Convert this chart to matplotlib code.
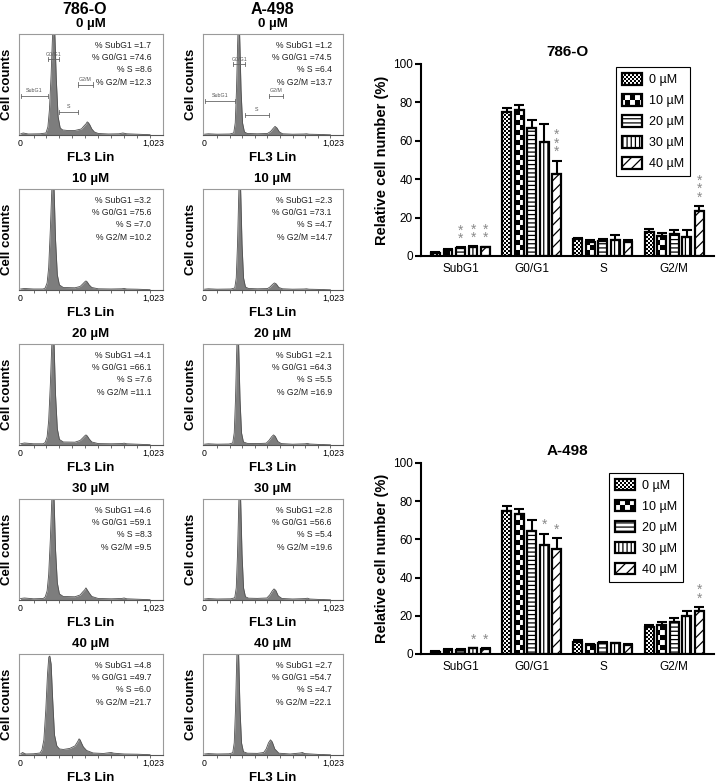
import warnings
warnings.filterwarnings('ignore')
import numpy as np
import matplotlib
matplotlib.use('Agg')
import matplotlib.pyplot as plt
import matplotlib.hatch as mhatch
from matplotlib.path import Path

plt.rcParams['font.family'] = ['Liberation Sans', 'DejaVu Sans']
plt.rcParams['hatch.linewidth'] = 0.9

# ---------------- data ----------------
concs = ['0 µM', '10 µM', '20 µM', '30 µM', '40 µM']
phases = ['SubG1', 'G0/G1', 'S', 'G2/M']

# flow-cytometry statistics shown in the histogram panels
stat_786 = [[1.7, 74.6, 8.6, 12.3], [3.2, 75.6, 7.0, 10.2], [4.1, 66.1, 7.6, 11.1],
            [4.6, 59.1, 8.3, 9.5], [4.8, 49.7, 6.0, 21.7]]
stat_498 = [[1.2, 74.5, 6.4, 13.7], [2.3, 73.1, 4.7, 14.7], [2.1, 64.3, 5.5, 16.9],
            [2.8, 56.6, 5.4, 19.6], [2.7, 54.7, 4.7, 22.1]]

# histogram outlines (channel, relative count)
ch_786_0 = [0, 20, 60, 150, 196, 211, 223, 236, 246, 256, 266, 276, 290, 306, 325, 360, 420, 470, 490, 505, 515, 525, 535, 550, 570, 600, 680, 760, 790, 820, 900, 1000]
ct_786_0 = [0.01, 0.02, 0.01, 0.012, 0.02, 0.08, 0.25, 0.6, 0.95, 1.25, 0.95, 0.55, 0.18, 0.07, 0.05, 0.045, 0.045, 0.06, 0.09, 0.11, 0.13, 0.12, 0.1, 0.06, 0.03, 0.015, 0.01, 0.012, 0.02, 0.012, 0.008, 0.003]
ch_786_1 = [0, 30, 100, 175, 190, 205, 217, 230, 240, 250, 260, 270, 284, 300, 330, 420, 460, 480, 495, 505, 515, 530, 550, 600, 700, 780, 800, 820, 900, 1000]
ct_786_1 = [0.01, 0.015, 0.01, 0.01, 0.02, 0.07, 0.22, 0.6, 0.95, 1.3, 0.95, 0.5, 0.15, 0.05, 0.025, 0.022, 0.035, 0.06, 0.08, 0.09, 0.08, 0.05, 0.025, 0.012, 0.01, 0.012, 0.015, 0.01, 0.008, 0.003]
ch_786_2 = [0, 30, 100, 175, 190, 205, 217, 230, 240, 250, 260, 270, 284, 300, 330, 420, 460, 480, 495, 505, 515, 530, 550, 600, 700, 780, 800, 820, 900, 1000]
ct_786_2 = [0.012, 0.02, 0.012, 0.012, 0.025, 0.08, 0.24, 0.6, 0.95, 1.3, 0.95, 0.5, 0.16, 0.055, 0.03, 0.028, 0.045, 0.07, 0.09, 0.1, 0.09, 0.06, 0.03, 0.014, 0.012, 0.014, 0.018, 0.012, 0.008, 0.003]
ch_786_3 = [0, 30, 100, 175, 190, 205, 217, 230, 240, 250, 260, 270, 284, 300, 330, 420, 460, 480, 495, 505, 515, 530, 550, 600, 700, 780, 800, 820, 900, 1000]
ct_786_3 = [0.015, 0.02, 0.012, 0.015, 0.03, 0.09, 0.25, 0.6, 0.95, 1.3, 0.95, 0.5, 0.17, 0.06, 0.035, 0.032, 0.05, 0.08, 0.1, 0.12, 0.1, 0.07, 0.035, 0.015, 0.012, 0.015, 0.02, 0.012, 0.008, 0.003]
ch_786_4 = [0, 15, 40, 100, 150, 165, 180, 195, 208, 218, 226, 236, 248, 262, 280, 300, 330, 380, 420, 440, 452, 460, 470, 485, 510, 560, 640, 680, 700, 720, 800, 900, 1000]
ct_786_4 = [0.01, 0.025, 0.01, 0.012, 0.02, 0.05, 0.15, 0.45, 0.8, 0.97, 0.98, 0.9, 0.55, 0.2, 0.09, 0.06, 0.055, 0.065, 0.09, 0.13, 0.16, 0.15, 0.12, 0.08, 0.045, 0.02, 0.015, 0.022, 0.025, 0.018, 0.01, 0.008, 0.003]

ch_498_0 = [0, 30, 100, 200, 232, 244, 254, 263, 272, 281, 290, 302, 317, 340, 420, 500, 525, 545, 560, 575, 595, 620, 700, 790, 810, 830, 900, 1000]
ct_498_0 = [0.008, 0.012, 0.008, 0.01, 0.02, 0.12, 0.45, 0.9, 1.3, 0.9, 0.45, 0.12, 0.03, 0.015, 0.012, 0.015, 0.035, 0.065, 0.085, 0.07, 0.03, 0.012, 0.008, 0.01, 0.012, 0.008, 0.006, 0.002]
ch_498_1 = [0, 30, 100, 210, 240, 252, 262, 271, 280, 289, 298, 310, 325, 350, 420, 500, 520, 540, 555, 570, 590, 620, 700, 790, 810, 830, 900, 1000]
ct_498_1 = [0.008, 0.012, 0.008, 0.01, 0.02, 0.12, 0.45, 0.9, 1.3, 0.9, 0.45, 0.12, 0.03, 0.015, 0.012, 0.014, 0.03, 0.055, 0.07, 0.06, 0.025, 0.012, 0.008, 0.01, 0.012, 0.008, 0.006, 0.002]
ch_498_2 = [0, 30, 100, 195, 224, 236, 246, 255, 264, 273, 282, 294, 309, 340, 420, 490, 512, 532, 548, 562, 582, 610, 700, 800, 817, 835, 900, 1000]
ct_498_2 = [0.008, 0.012, 0.008, 0.01, 0.02, 0.12, 0.45, 0.9, 1.3, 0.9, 0.45, 0.12, 0.03, 0.016, 0.014, 0.018, 0.045, 0.08, 0.1, 0.085, 0.035, 0.014, 0.008, 0.012, 0.016, 0.01, 0.006, 0.002]
ch_498_3 = [0, 30, 100, 210, 240, 252, 262, 271, 280, 289, 298, 310, 325, 350, 420, 495, 518, 538, 552, 566, 586, 615, 700, 800, 817, 835, 900, 1000]
ct_498_3 = [0.01, 0.014, 0.01, 0.012, 0.022, 0.12, 0.45, 0.9, 1.3, 0.9, 0.45, 0.12, 0.032, 0.018, 0.016, 0.02, 0.05, 0.09, 0.11, 0.095, 0.04, 0.015, 0.01, 0.014, 0.018, 0.01, 0.006, 0.002]
ch_498_4 = [0, 30, 100, 195, 224, 236, 246, 255, 264, 273, 282, 294, 309, 340, 420, 470, 490, 508, 524, 538, 558, 590, 680, 760, 778, 795, 900, 1000]
ct_498_4 = [0.01, 0.014, 0.01, 0.012, 0.022, 0.12, 0.45, 0.9, 1.3, 0.9, 0.45, 0.12, 0.032, 0.018, 0.016, 0.025, 0.06, 0.12, 0.15, 0.13, 0.06, 0.018, 0.01, 0.02, 0.025, 0.014, 0.006, 0.002]

# gate markers on the 0 µM panels (channel range, relative height)
gate_786_lo = [0, 215, 300, 440]
gate_786_hi = [215, 300, 440, 560]
gate_786_y = [0.39, 0.75, 0.23, 0.50]
gate_498_lo = [0, 230, 318, 516]
gate_498_hi = [245, 325, 516, 627]
gate_498_y = [0.34, 0.70, 0.20, 0.39]

# bar chart values (mean, upper error) per concentration across phases
m786 = [[1.7, 75.0, 8.6, 12.6], [3.2, 75.8, 7.2, 10.6], [4.1, 66.5, 7.6, 11.2],
        [4.6, 59.5, 8.3, 9.8], [4.5, 42.7, 7.5, 23.4]]
e786 = [[0.3, 2.0, 0.8, 1.5], [0.4, 2.6, 1.0, 1.3], [0.4, 4.5, 1.5, 2.6],
        [0.4, 9.5, 2.5, 3.8], [0.4, 7.0, 0.6, 2.5]]
m498 = [[1.2, 75.0, 6.4, 14.0], [2.1, 73.5, 4.7, 15.0], [2.1, 64.5, 5.6, 17.0],
        [2.9, 57.0, 5.5, 20.0], [2.8, 55.0, 4.8, 22.5]]
e498 = [[0.2, 2.5, 0.7, 1.0], [0.3, 2.5, 0.6, 1.8], [0.3, 5.5, 0.7, 2.0],
        [0.3, 6.0, 0.5, 2.5], [0.3, 5.5, 0.5, 2.0]]
# significance: (phase index, concentration index, number of stars)
sig786 = [(0, 2, 2), (0, 3, 2), (0, 4, 2), (1, 4, 3), (3, 4, 3)]
sig498 = [(0, 3, 1), (0, 4, 1), (1, 3, 1), (1, 4, 1), (3, 4, 2)]


# ---------------- custom checker hatches ----------------
class _Checker(mhatch.HatchPatternBase):
    char = 'c'
    n = 10
    inset = 0.006

    def __init__(self, hatch, density):
        self.on = self.char in hatch
        m = 2 * self.n
        self.num_vertices = (m * m // 2) * 5 if self.on else 0

    def set_vertices_and_codes(self, vertices, codes):
        m = 2 * self.n
        s = 1.0 / m
        d = self.inset
        k = 0
        for i in range(m):
            for j in range(m):
                if (i + j) % 2 == 0:
                    x0, y0 = j * s + d, i * s + d
                    x1, y1 = (j + 1) * s - d, (i + 1) * s - d
                    vertices[k:k + 5] = [[x0, y0], [x1, y0], [x1, y1], [x0, y1], [x0, y0]]
                    codes[k:k + 5] = [Path.MOVETO, Path.LINETO, Path.LINETO,
                                      Path.LINETO, Path.CLOSEPOLY]
                    k += 5


class _FineChecker(_Checker):
    char = 'k'
    n = 25
    inset = 0.0062


mhatch._hatch_types.append(_Checker)
mhatch._hatch_types.append(_FineChecker)

hatches = ['k', 'c', '----', '||||', '///']

# ---------------- figure ----------------
W, H = 716, 784
fig = plt.figure(figsize=(W / 100, H / 100), dpi=100)


def rect(l, t, w, h):
    return [l / W, 1 - (t + h) / H, w / W, h / H]


hist_786 = [(ch_786_0, ct_786_0), (ch_786_1, ct_786_1), (ch_786_2, ct_786_2),
            (ch_786_3, ct_786_3), (ch_786_4, ct_786_4)]
hist_498 = [(ch_498_0, ct_498_0), (ch_498_1, ct_498_1), (ch_498_2, ct_498_2),
            (ch_498_3, ct_498_3), (ch_498_4, ct_498_4)]

col_left = [19, 203]
col_w = [144, 140]
row_top0, row_step, box_h = 34, 155, 101
stat_names = ['% SubG1 =', '% G0/G1 =', '% S =', '% G2/M =']
gate_names = ['SubG1', 'G0/G1', 'S', 'G2/M']

for c, (hists, stats, glo, ghi, gy) in enumerate([
        (hist_786, stat_786, gate_786_lo, gate_786_hi, gate_786_y),
        (hist_498, stat_498, gate_498_lo, gate_498_hi, gate_498_y)]):
    for r in range(5):
        ax = fig.add_axes(rect(col_left[c], row_top0 + r * row_step, col_w[c], box_h))
        ch, ct = hists[r]
        ax.fill_between(ch, 0, ct, color='#7d7d7d', lw=0)
        ax.plot(ch, ct, color='#505050', lw=0.6)
        ax.set_xlim(-12, 1100)
        ax.set_ylim(0, 1)
        for s in ['top', 'right', 'left']:
            ax.spines[s].set_color('#9a9a9a')
            ax.spines[s].set_linewidth(0.8)
        ax.spines['bottom'].set_color('#555555')
        ax.spines['bottom'].set_linewidth(0.8)
        ax.set_yticks([])
        ax.set_xticks([0, 1023])
        ax.set_xticklabels(['0', '1,023'])
        ax.set_xticks(np.arange(100, 1001, 100), minor=True)
        ax.tick_params(axis='x', which='both', length=2, width=0.6, color='#555555',
                       labelsize=6.3, pad=3)
        ax.tick_params(axis='x', which='major', length=0)
        ax.text(0.5, 1.1, concs[r], transform=ax.transAxes, ha='center', va='center',
                fontsize=9.5, fontweight='bold')
        ax.text(0.5, -0.23, 'FL3 Lin', transform=ax.transAxes, ha='center', va='center',
                fontsize=9.5, fontweight='bold')
        ax.text(-0.085, 0.5, 'Cell counts', transform=ax.transAxes, ha='center', va='center',
                rotation=90, fontsize=9.5, fontweight='bold')
        for k in range(4):
            ax.text(0.92, 0.89 - k * 0.123, f'{stat_names[k]}{stats[r][k]:.1f}',
                    transform=ax.transAxes, ha='right', va='center', fontsize=6.2,
                    color='#222222')
        if r == 0:
            for k in range(4):
                ax.plot([glo[k], ghi[k]], [gy[k], gy[k]], color='#666666', lw=0.6)
                ax.plot([glo[k], glo[k]], [gy[k] - 0.02, gy[k] + 0.02], color='#666666', lw=0.6)
                ax.plot([ghi[k], ghi[k]], [gy[k] - 0.02, gy[k] + 0.02], color='#666666', lw=0.6)
                ax.text((glo[k] + ghi[k]) / 2, gy[k] + 0.025, gate_names[k], ha='center',
                        va='bottom', fontsize=3.8, color='#555555')

fig.text(85 / W, 1 - 9 / H, '786-O', ha='center', va='center', fontsize=11.5, fontweight='bold')
fig.text(272 / W, 1 - 9 / H, 'A-498', ha='center', va='center', fontsize=11.5, fontweight='bold')

# ---------------- bar charts ----------------
slot = 0.176
bw = 0.125


def bar_chart(ax, means, errs, sigs, title, anchor):
    x = np.arange(len(phases))
    for i in range(len(concs)):
        pos = x + (i - 2) * slot
        ax.bar(pos, means[i], width=bw, color='white', edgecolor='black', linewidth=1.6,
               hatch=hatches[i], label=concs[i], zorder=2)
        ax.errorbar(pos, means[i], yerr=[np.zeros(len(phases)), errs[i]], fmt='none',
                    ecolor='black', elinewidth=1.5, capsize=3.5, capthick=1.5, zorder=3)
    for p, ci, n in sigs:
        top = means[ci][p] + errs[ci][p]
        ax.text(p + (ci - 2) * slot, top + 0.8, '\n'.join(['*'] * n), ha='center',
                va='bottom', color='#8a8a8a', fontsize=10, linespacing=0.5)
    ax.set_xlim(-0.555, 3.56)
    ax.set_ylim(0, 100)
    ax.set_yticks([0, 20, 40, 60, 80, 100])
    ax.set_xticks(x)
    ax.set_xticklabels(phases)
    ax.spines['top'].set_visible(False)
    ax.spines['right'].set_visible(False)
    ax.spines['left'].set_linewidth(1.5)
    ax.spines['bottom'].set_linewidth(1.5)
    ax.tick_params(axis='y', length=4, width=1.5, labelsize=8.5, pad=2)
    ax.tick_params(axis='x', length=0, labelsize=8.5, pad=5)
    ax.set_ylabel('Relative cell number (%)', fontsize=10.5, fontweight='bold', labelpad=3)
    ax.set_title(title, fontsize=11, fontweight='bold', pad=6)
    leg = ax.legend(loc='upper right', bbox_to_anchor=anchor, fontsize=9, frameon=True,
                    fancybox=False, edgecolor='black', framealpha=1, handlelength=1.6,
                    handleheight=1.0, handletextpad=0.5, labelspacing=0.65, borderpad=0.5,
                    borderaxespad=0)
    leg.get_frame().set_linewidth(0.8)


ax1 = fig.add_axes(rect(421, 64, 293, 192))
bar_chart(ax1, m786, e786, sig786, '786-O', (0.918, 0.984))
ax2 = fig.add_axes(rect(421, 463, 293, 191))
bar_chart(ax2, m498, e498, sig498, 'A-498', (0.894, 0.948))

fig.savefig('out.png', dpi=100)
